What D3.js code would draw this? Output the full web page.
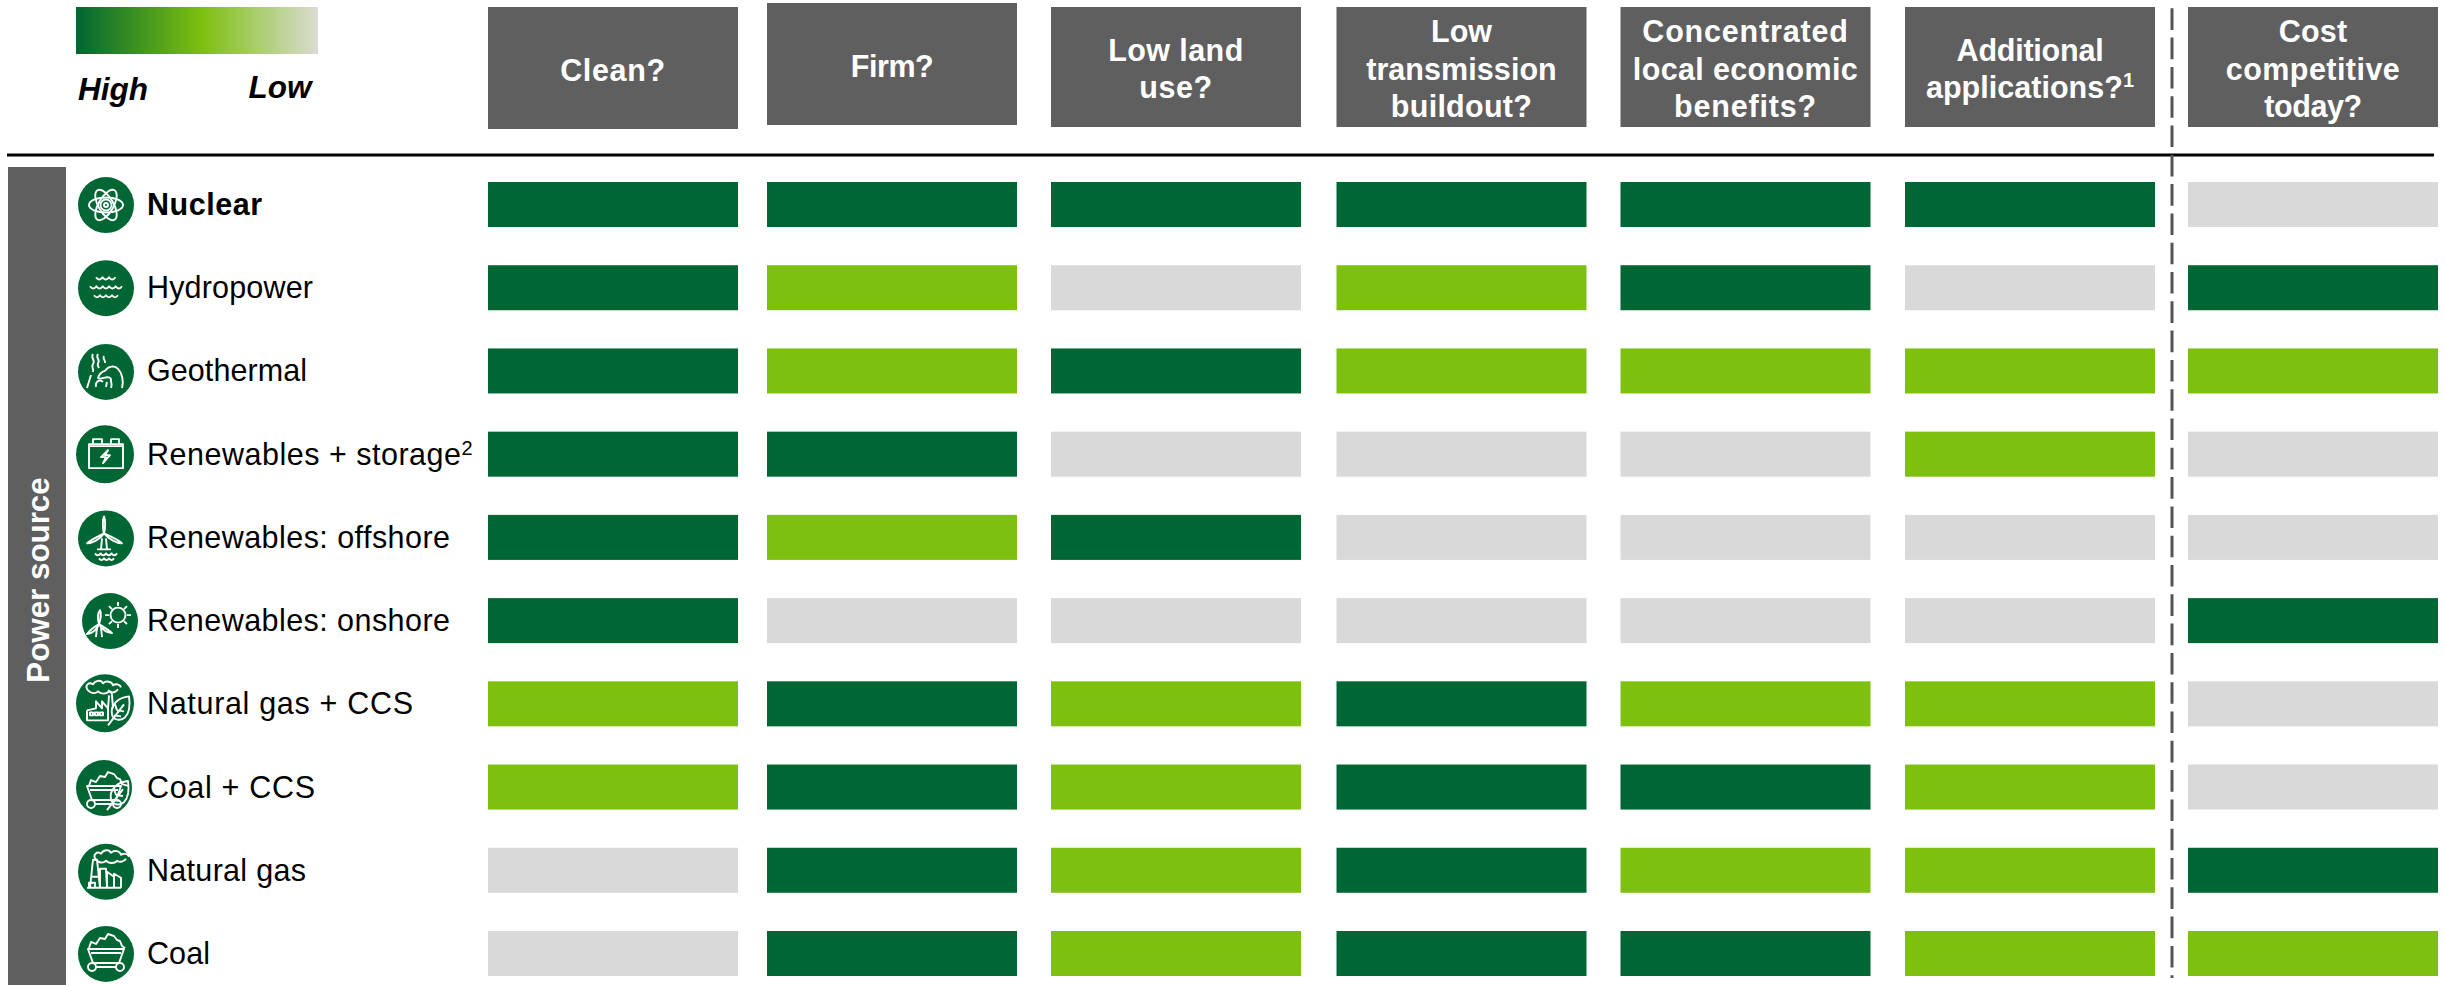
<!DOCTYPE html>
<html>
<head>
<meta charset="utf-8">
<title>Power source comparison</title>
<script src="https://cdn.jsdelivr.net/npm/d3@7"></script>
<style>
  html, body { margin: 0; padding: 0; background: #fff; }
  svg { display: block; font-family: "Liberation Sans", Arial, sans-serif; }
</style>
</head>
<body>
<svg id="chart" width="2445" height="985"></svg>
<script>
// Power sources, top to bottom
const sources = ["Nuclear", "Hydropower", "Geothermal", "Renewables + storage", "Renewables: offshore",
  "Renewables: onshore", "Natural gas + CCS", "Coal + CCS", "Natural gas", "Coal"];

// Criteria, left to right
const criteria = ["clean", "firm", "land", "transmission", "benefits", "applications", "cost"];

// Header wording, one entry per line
const headerClean = ["Clean?"];
const headerFirm = ["Firm?"];
const headerLand = ["Low land", "use?"];
const headerTransmission = ["Low", "transmission", "buildout?"];
const headerBenefits = ["Concentrated", "local economic", "benefits?"];
const headerApplications = ["Additional", "applications?"];
const headerCost = ["Cost", "competitive", "today?"];
const headers = [headerClean, headerFirm, headerLand, headerTransmission, headerBenefits, headerApplications, headerCost];

// Ratings per criterion: 2 = high, 1 = medium, 0 = low
const clean        = [2, 2, 2, 2, 2, 2, 1, 1, 0, 0];
const firm         = [2, 1, 1, 2, 1, 0, 2, 2, 2, 2];
const land         = [2, 0, 2, 0, 2, 0, 1, 1, 1, 1];
const transmission = [2, 1, 1, 0, 0, 0, 2, 2, 2, 2];
const benefits     = [2, 2, 1, 0, 0, 0, 1, 2, 1, 2];
const applications = [2, 0, 1, 1, 0, 0, 1, 1, 1, 1];
const cost         = [0, 2, 1, 0, 0, 2, 0, 0, 2, 1];
const ratings = [clean, firm, land, transmission, benefits, applications, cost];

// Superscript footnote markers attached to a label
const sourceNotes = { "Renewables + storage": "2" };
const headerNotes = { applications: "1" };

const GREEN_DARK = "#006633", GREEN_LIGHT = "#7dc00f", GREY = "#d9d9d9", SLATE = "#5f5f5f";

// Set widths of the typeset lines, in pixels; tracking is adjusted to hit them
const setWidth = new Map([
  ["Nuclear", 115], ["Hydropower", 166], ["Geothermal", 160], ["Renewables + storage", 314],
  ["Renewables: offshore", 303], ["Renewables: onshore", 303], ["Natural gas + CCS", 266],
  ["Coal + CCS", 168], ["Natural gas", 159], ["Coal", 63],
  ["Clean?", 105], ["Firm?", 83], ["Low land", 135], ["use?", 73], ["Low", 61], ["transmission", 190.6],
  ["buildout?", 141], ["Concentrated", 205.5], ["local economic", 225], ["benefits?", 142],
  ["Additional", 147], ["applications?", 197], ["Cost", 68.5], ["competitive", 174], ["today?", 98]
]);
function track(sel) {
  sel.each(function (d) {
    const natural = this.getComputedTextLength();
    const chars = d.length;
    d3.select(this).attr("letter-spacing", (setWidth.get(d) - natural) / Math.max(1, chars - 1));
  });
}

const svg = d3.select("#chart");

const color = d3.scaleOrdinal().domain([2, 1, 0]).range([GREEN_DARK, GREEN_LIGHT, GREY]);

// Row bands share one step; column edges follow the slightly uneven slide grid
const y = d3.scaleBand().domain(sources).range([182, 976]).paddingInner(0.459);
const colLeft = d3.scaleOrdinal().domain(criteria).range([488, 767, 1051, 1336.5, 1620.5, 1905, 2188]);
const colWidth = 250;
const headerTop = d3.scaleOrdinal().domain(criteria).range([7, 3, 7, 7, 7, 7, 7]);
const headerBottom = d3.scaleOrdinal().domain(criteria).range([129, 125, 127, 127, 127, 127, 127]);

// Legend ramp
const ramp = svg.append("defs").append("linearGradient").attr("id", "ramp");
ramp.selectAll("stop")
  .data([[0, GREEN_DARK], [0.52, GREEN_LIGHT], [1, "#dadcd2"]])
  .join("stop")
  .attr("offset", d => d[0])
  .attr("stop-color", d => d[1]);
svg.append("rect").attr("x", 76).attr("y", 7).attr("width", 242).attr("height", 47).attr("fill", "url(#ramp)");
svg.append("text").attr("x", 78).attr("y", 100).text("High")
  .attr("font-size", 31.5).attr("font-weight", 700).attr("font-style", "italic");
svg.append("text").attr("x", 248.5).attr("y", 98).text("Low")
  .attr("font-size", 31.5).attr("font-weight", 700).attr("font-style", "italic");

// Header boxes and wording
const headerG = svg.selectAll("g.header").data(criteria).join("g").attr("class", "header");
headerG.append("rect")
  .attr("x", d => colLeft(d))
  .attr("y", d => headerTop(d))
  .attr("width", colWidth)
  .attr("height", d => headerBottom(d) - headerTop(d))
  .attr("fill", SLATE);
headerG.each(function (key, c) {
  const lines = headers[c];
  const mid = (headerTop(key) + headerBottom(key)) / 2;
  const t = d3.select(this).selectAll("text").data(lines).join("text")
    .attr("x", colLeft(key) + colWidth / 2)
    .attr("y", (_, i) => mid + 12.5 + (i - (lines.length - 1) / 2) * 37.5)
    .attr("text-anchor", "middle")
    .attr("fill", "#fff")
    .attr("font-size", 30.5)
    .attr("font-weight", 700)
    .text(d => d)
    .call(track);
  if (headerNotes[key]) {
    t.filter((_, i) => i === lines.length - 1).append("tspan")
      .attr("font-size", 20).attr("dy", -11).attr("letter-spacing", 0).text(headerNotes[key]);
  }
});

// Rule under the header and the dashed divider before the cost column
svg.append("line").attr("x1", 7).attr("x2", 2434).attr("y1", 155).attr("y2", 155)
  .attr("stroke", "#000").attr("stroke-width", 3);
svg.append("line").attr("x1", 2172).attr("x2", 2172).attr("y1", 8.3).attr("y2", 978)
  .attr("stroke", "#555").attr("stroke-width", 3).attr("stroke-dasharray", "21.6 7.7");

// Side band
svg.append("rect").attr("x", 8).attr("y", 167).attr("width", 58).attr("height", 818).attr("fill", SLATE);
svg.append("text").attr("transform", "translate(49,580) rotate(-90)")
  .attr("text-anchor", "middle").attr("fill", "#fff").attr("font-size", 31.3).attr("font-weight", 700)
  .text("Power source");

// Rating bars
svg.append("g").selectAll("g").data(criteria).join("g")
  .each(function (key, c) {
    d3.select(this).selectAll("rect").data(ratings[c]).join("rect")
      .attr("x", colLeft(key))
      .attr("y", (_, i) => y(sources[i]))
      .attr("width", colWidth)
      .attr("height", y.bandwidth())
      .attr("fill", d => color(d));
  });

// Row labels
const labels = svg.append("g").selectAll("text").data(sources).join("text")
  .attr("x", 147)
  .attr("y", d => y(d) + y.bandwidth() / 2 + 10.5)
  .attr("font-size", 30.5)
  .attr("font-weight", d => d === "Nuclear" ? 700 : 400)
  .attr("fill", "#000")
  .text(d => d)
  .call(track);
labels.filter(d => sourceNotes[d]).append("tspan")
  .attr("font-size", 20).attr("dy", -10).attr("letter-spacing", 0).text(d => sourceNotes[d]);

// Pictogram pieces, drawn around the centre of a badge
const ring = (cx, cy, r) => `M${cx - r},${cy}a${r},${r} 0 1,0 ${2 * r},0a${r},${r} 0 1,0 ${-2 * r},0`;
const wave = (x0, yy, n, w) => `M${x0},${yy}` + d3.range(n).map(() => `q${w / 2},${w * 0.7} ${w},0`).join("");
const leaf = (x, yy) => `M${x + 13},${yy - 15}C${x + 2},${yy - 14} ${x - 6},${yy - 6} ${x - 4},${yy + 3}C${x - 3},${yy + 9} ${x + 5},${yy + 10} ${x + 9},${yy + 6}C${x + 14},${yy + 1} ${x + 14},${yy - 8} ${x + 13},${yy - 15}Z`
  + `M${x - 8},${yy + 14}L${x + 8},${yy - 7}M${x + 1},${yy - 1}l-2,-6M${x + 1},${yy - 1}l7,1M${x - 2},${yy + 4}l7,1`;
const smoke = (x, yy) => `M${x},${yy + 4}c-4,-5 1,-9 5,-6c2,-4 8,-5 10,-1c3,-3 9,-2 10,2c3,-2 7,-1 8,2M${x},${yy + 4}c3,3 7,4 10,1c3,3 9,3 11,0c3,2 7,1 9,-2`;
const cart = (x, yy, w) => `M${x},${yy}H${x + w}L${x + w - 5},${yy + 14}H${x + 5}Z`
  + `M${x + 3},${yy + 4}H${x + w - 3}`
  + ring(x + 4, yy + 18, 4) + ring(x + w - 4, yy + 18, 4) + `M${x + 8},${yy + 18}H${x + w - 8}`;
const pile = (x, yy, w) => `M${x},${yy}l2,-6l5,2l4,-6l5,1l3,-5l6,2l3,4l3,1l2,5l${w - 33},2`;

const pictograms = {
  "Nuclear": { paths: [ring(0, 0, 5.5), ring(0, 0, 2)], ellipses: [0, 60, -60] },
  "Hydropower": { paths: [wave(-10, -11, 3, 6.5), wave(-16, -2, 5, 6.4), wave(-12, 7, 4, 6)] },
  "Geothermal": { paths: [
    "M-13,-18c-3,4 3,6 0,10c-2,3 1,5 0,8", "M-8,-18c-3,4 3,6 0,9c-1,2 0,3 1,5", "M-2,-16c-2,3 2,4 1,7",
    "M-1,-1C2,-6 9,-7 12,-3C16,1 18,9 16,16", "M-1,-1C-5,0 -7,3 -8,6C-5,9 2,2 5,7C4,10 7,11 5,16",
    "M-19,16L-15,3", "M-10,15C-11,9 -6,7 -3,10", "M0,15L1,10"] },
  "Renewables + storage": { paths: [
    "M-16,-10H18V14H-16ZM-15,-8H17", "M-12,-10V-15H-3V-10M6,-10V-15H14V-10", "M3,-4L-4,3H1L-2,9L5,1H0Z"] },
  "Renewables: offshore": { paths: [
    "M-2,-5C-4,-12 -3,-20 -2,-22C-1,-20 0,-12 -2,-5Z", "M-2,-5C-8,-2 -16,2 -19,5C-14,5 -6,1 -2,-5Z",
    "M-2,-5C5,-2 13,2 16,5C11,5 3,1 -2,-5Z", "M-4,0L-5,11M0,0L1,11M-9,11H5", wave(-11, 15, 4, 5.5), wave(-7, 20, 3, 5)] },
  "Renewables: onshore": { paths: [
    ring(8, -6, 7.5), "M8,-19v4M8,3v4M-5,-6h4M17,-6h4M-1,-15l3,3M17,-15l-3,3M-1,3l3,-3M17,3l-3,-3",
    "M-11,3C-13,-3 -12,-9 -10,-11C-9,-9 -9,-3 -11,3Z", "M-11,3C-16,6 -21,10 -23,13C-18,12 -13,9 -11,3Z",
    "M-11,3C-6,6 -1,9 2,12C-3,12 -8,8 -11,3Z", "M-13,6L-14,16M-9,6L-8,16"] },
  "Natural gas + CCS": { paths: [
    smoke(-17, -17), "M3,-13C6,-12 7,-10 7,-8L8,5M3,5L4,-8",
    "M-18,7V17H3V5L-3,-2V5L-9,-2V5L-18,7", "M-15,9h3v3h-3zM-10,9h3v3h-3zM-5,9h3v3h-3z",
    leaf(11, 8)] },
  "Coal + CCS": { paths: [pile(-15, -2, 40), cart(-17, -2, 34), leaf(11, 8)] },
  "Natural gas": { paths: [
    smoke(-10, -16), "M-16,16L-13,-12H-9L-6,16", "M-19,16H15", "M-15,5H-8M-17,16V11H-11V16", "M-6,16V-3H0L1,16", "M1,16V0L8,5V16M8,16V2L15,6V16"] },
  "Coal": { paths: [pile(-17, -6, 36), cart(-18, -5, 36)] }
};

// Badge centres wander slightly away from the row centre, as on the slide
const badgeX = d3.scaleOrdinal().domain(sources).range([106, 106, 106, 105, 106, 110, 105, 104, 106, 106]);
const badgeDy = d3.scaleOrdinal().domain(sources).range([0.5, 0.5, 1, 0, 1, 0.5, -0.5, 1, 1.5, 0.5]);
const badgeR = d3.scaleOrdinal().domain(sources).range([28, 28, 28, 29, 28, 28, 29, 28, 28, 28]);

const badges = svg.append("g").selectAll("g").data(sources).join("g")
  .attr("transform", d => `translate(${badgeX(d)},${y(d) + y.bandwidth() / 2 + badgeDy(d)})`);
badges.append("circle").attr("r", d => badgeR(d)).attr("fill", GREEN_DARK);
badges.each(function (d) {
  const g = d3.select(this);
  const art = pictograms[d];
  g.selectAll("path").data(art.paths).join("path")
    .attr("d", p => p)
    .attr("fill", "none").attr("stroke", "#fff").attr("stroke-width", 1.9).attr("stroke-linejoin", "round");
  g.selectAll("ellipse").data(art.ellipses || []).join("ellipse")
    .attr("rx", 17).attr("ry", 7.5)
    .attr("transform", a => `rotate(${a})`)
    .attr("fill", "none").attr("stroke", "#fff").attr("stroke-width", 1.9);
});
</script>
</body>
</html>
